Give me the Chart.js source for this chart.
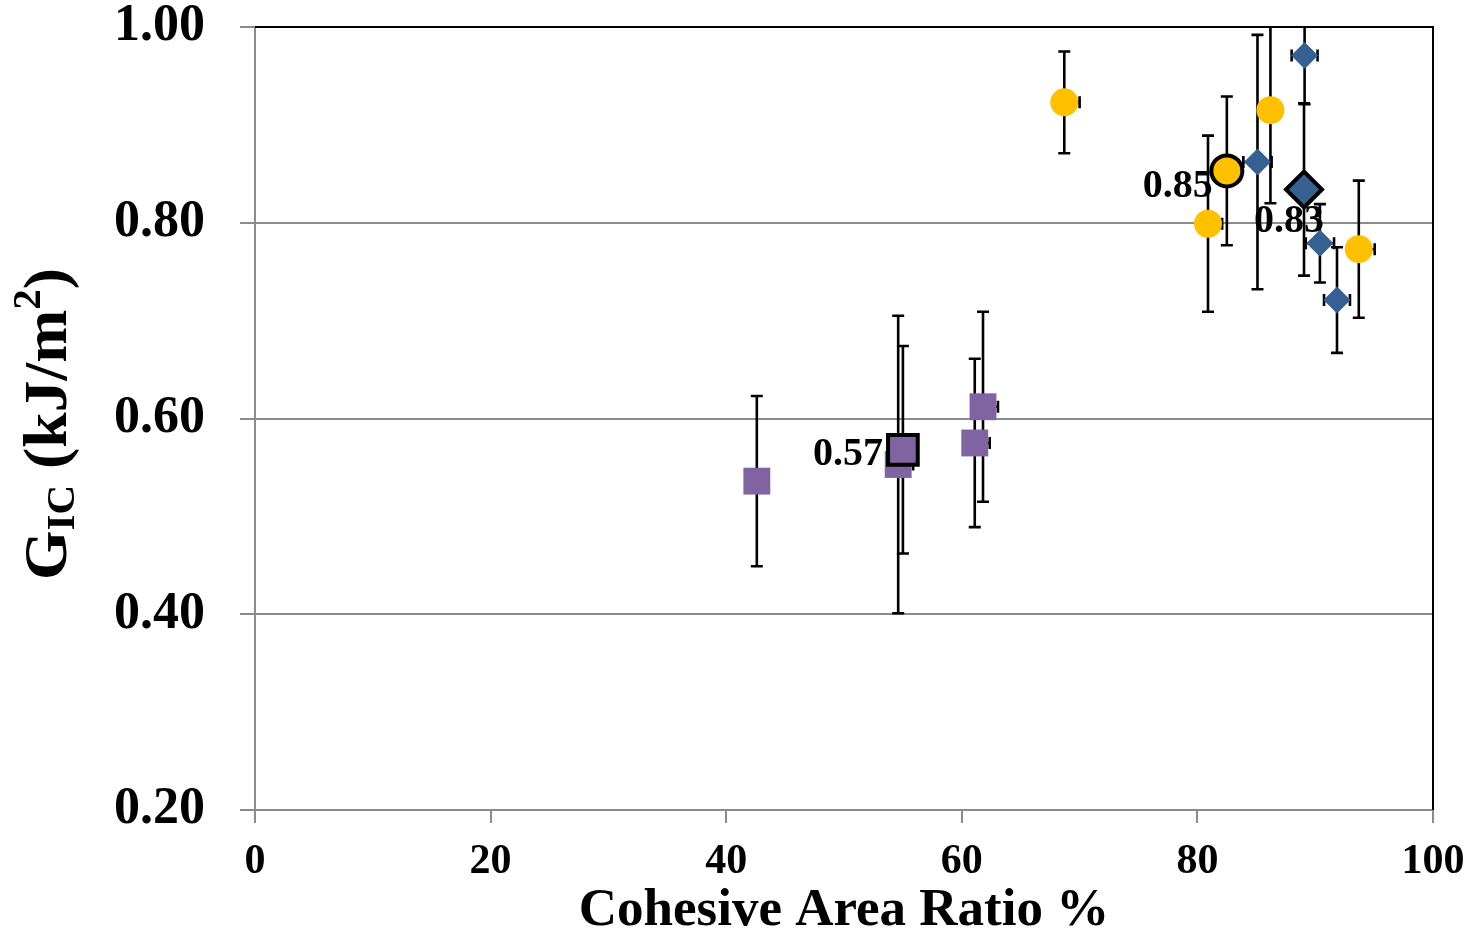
<!DOCTYPE html>
<html>
<head>
<meta charset="utf-8">
<script src="https://cdn.jsdelivr.net/npm/chart.js@4.4.1/dist/chart.umd.min.js"></script>
<style>
  html, body { margin: 0; padding: 0; background: #ffffff; }
  #wrap { width: 1471px; height: 935px; }
</style>
</head>
<body>
<div id="wrap"><canvas id="c" width="1471" height="935"></canvas></div>
<script>
// ---- Data ----
const xTickValues = [0, 20, 40, 60, 80, 100];
const yTickValues = [0.20, 0.40, 0.60, 0.80, 1.00];
const xTitle = 'Cohesive Area Ratio %';

// Purple squares
const sqX    = [42.6, 54.6, 61.1, 61.8];
const sqY    = [0.536, 0.553, 0.575, 0.612];
const sqXErr = [0.8, 1.27, 1.27, 1.27];
const sqYErr = [0.087, 0.152, 0.086, 0.097];
// Purple average
const sqAvgX = [55.0];
const sqAvgY = [0.568];
const sqAvgXErr = [1.0];
const sqAvgYErr = [0.106];
const sqAvgLabel = ['0.57'];

// Yellow circles
const ciX    = [68.7, 80.9, 86.2, 93.7];
const ciY    = [0.923, 0.799, 0.915, 0.773];
const ciXErr = [1.3, 1.2, 0.8, 1.35];
const ciYErr = [0.052, 0.090, 0.095, 0.070];
// Yellow average
const ciAvgX = [82.5];
const ciAvgY = [0.853];
const ciAvgXErr = [0.8];
const ciAvgYErr = [0.076];
const ciAvgLabel = ['0.85'];

// Blue diamonds
const diX    = [89.1, 85.1, 90.4, 91.85];
const diY    = [0.971, 0.862, 0.779, 0.721];
const diXErr = [1.1, 1.2, 1.2, 1.1];
const diYErr = [0.050, 0.130, 0.040, 0.054];
// Blue average
const diAvgX = [89.05];
const diAvgY = [0.834];
const diAvgXErr = [1.0];
const diAvgYErr = [0.088];
const diAvgLabel = ['0.83'];

const YELLOW = '#FFC000';
const BLUE = '#376092';
const PURPLE = '#8064A2';
const GRID = '#8c8c8c';
const SERIF = '"Liberation Serif", "Times New Roman", serif';

function pts(xs, ys) { return xs.map((x, i) => ({ x: x, y: ys[i] })); }

// ---- Plugins ----
const errorBars = {
  id: 'errorBars',
  beforeDatasetsDraw(chart) {
    const { ctx, chartArea: a, scales: { x, y } } = chart;
    ctx.save();
    ctx.beginPath();
    ctx.rect(a.left, a.top - 1, a.right - a.left, a.bottom - a.top + 2);
    ctx.clip();
    ctx.strokeStyle = '#000000';
    ctx.lineWidth = 2.6;
    const cap = 6;
    chart.data.datasets.forEach((ds) => {
      if (!ds.errY) return;
      ds.data.forEach((p, i) => {
        const px = x.getPixelForValue(p.x);
        const py = y.getPixelForValue(p.y);
        const yTop = y.getPixelForValue(p.y + ds.errY[i]);
        const yBot = y.getPixelForValue(p.y - ds.errY[i]);
        const xL = ds.xErrPlusOnly ? px : x.getPixelForValue(p.x - ds.errX[i]);
        const xR = x.getPixelForValue(p.x + ds.errX[i]);
        ctx.beginPath();
        ctx.moveTo(px, yTop); ctx.lineTo(px, yBot);
        ctx.moveTo(px - cap, yTop); ctx.lineTo(px + cap, yTop);
        ctx.moveTo(px - cap, yBot); ctx.lineTo(px + cap, yBot);
        ctx.moveTo(xL, py); ctx.lineTo(xR, py);
        if (!ds.xErrPlusOnly) { ctx.moveTo(xL, py - cap); ctx.lineTo(xL, py + cap); }
        ctx.moveTo(xR, py - cap); ctx.lineTo(xR, py + cap);
        ctx.stroke();
      });
    });
    ctx.restore();
    // top & right frame in black
    ctx.save();
    ctx.strokeStyle = '#000000';
    ctx.lineWidth = 2;
    ctx.beginPath();
    ctx.moveTo(a.left, a.top); ctx.lineTo(a.right, a.top); ctx.lineTo(a.right, a.bottom);
    ctx.stroke();
    ctx.restore();
  }
};

const avgLabels = {
  id: 'avgLabels',
  afterDatasetsDraw(chart, args, opts) {
    const { ctx, scales: { x, y } } = chart;
    ctx.save();
    ctx.fillStyle = '#000000';
    ctx.font = 'bold 40px ' + SERIF;
    ctx.textBaseline = 'alphabetic';
    chart.data.datasets.forEach((ds) => {
      if (!ds.valueLabels) return;
      const off = ds.labelOffset;
      ds.data.forEach((p, i) => {
        ctx.textAlign = off.align;
        ctx.fillText(ds.valueLabels[i], x.getPixelForValue(p.x) + off.dx, y.getPixelForValue(p.y) + off.dy);
      });
    });
    ctx.restore();
  }
};

const yTitlePlugin = {
  id: 'yTitlePlugin',
  afterDraw(chart, args, opts) {
    const { ctx } = chart;
    const big = 'bold 62px ' + SERIF;
    const small = 'bold 40px ' + SERIF;
    const parts = [
      { t: 'G', f: big, dy: 0 },
      { t: 'IC', f: small, dy: 8 },
      { t: ' (kJ/m', f: big, dy: 0 },
      { t: '2', f: small, dy: -26 },
      { t: ')', f: big, dy: 0 }
    ];
    ctx.save();
    let total = 0;
    parts.forEach(p => { ctx.font = p.f; p.w = ctx.measureText(p.t).width; total += p.w; });
    const targetLen = opts.length;
    ctx.translate(opts.cx, opts.cy);
    ctx.rotate(-Math.PI / 2);
    ctx.scale(targetLen / total, 1);
    ctx.fillStyle = '#000000';
    ctx.textBaseline = 'alphabetic';
    ctx.textAlign = 'left';
    let cx = -total / 2;
    parts.forEach(p => {
      ctx.font = p.f;
      ctx.fillText(p.t, cx, opts.baseline + p.dy);
      cx += p.w;
    });
    ctx.restore();
  }
};

// ---- Chart ----
const ctx = document.getElementById('c').getContext('2d');
new Chart(ctx, {
  type: 'scatter',
  data: {
    datasets: [
      {
        label: 'Average (circle)', data: pts(ciAvgX, ciAvgY), errX: ciAvgXErr, errY: ciAvgYErr, xErrPlusOnly: true,
        valueLabels: ciAvgLabel, labelOffset: { align: 'right', dx: -14, dy: 26 },
        pointStyle: 'circle', pointRadius: 15.5, pointHoverRadius: 15.5,
        backgroundColor: YELLOW, borderColor: '#000000', borderWidth: 4, pointBorderWidth: 4
      },
      {
        label: 'Average (diamond)', data: pts(diAvgX, diAvgY), errX: diAvgXErr, errY: diAvgYErr,
        valueLabels: diAvgLabel, labelOffset: { align: 'center', dx: -15, dy: 43 },
        pointStyle: 'rectRot', pointRadius: 18, pointHoverRadius: 18,
        backgroundColor: BLUE, borderColor: '#000000', borderWidth: 4, pointBorderWidth: 4
      },
      {
        label: 'Average (square)', data: pts(sqAvgX, sqAvgY), errX: sqAvgXErr, errY: sqAvgYErr, xErrPlusOnly: true,
        valueLabels: sqAvgLabel, labelOffset: { align: 'right', dx: -20, dy: 15 },
        pointStyle: 'rect', pointRadius: 21, pointHoverRadius: 21,
        backgroundColor: PURPLE, borderColor: '#000000', borderWidth: 4, pointBorderWidth: 4
      },
      {
        label: 'Diamonds', data: pts(diX, diY), errX: diXErr, errY: diYErr,
        pointStyle: 'rectRot', pointRadius: 13.5, pointHoverRadius: 13.5,
        backgroundColor: BLUE, borderColor: BLUE, borderWidth: 0, pointBorderWidth: 0
      },
      {
        label: 'Circles', data: pts(ciX, ciY), errX: ciXErr, errY: ciYErr, xErrPlusOnly: true,
        pointStyle: 'circle', pointRadius: 14, pointHoverRadius: 14,
        backgroundColor: YELLOW, borderColor: YELLOW, borderWidth: 0, pointBorderWidth: 0
      },
      {
        label: 'Squares', data: pts(sqX, sqY), errX: sqXErr, errY: sqYErr, xErrPlusOnly: true,
        pointStyle: 'rect', pointRadius: 19, pointHoverRadius: 19,
        backgroundColor: PURPLE, borderColor: PURPLE, borderWidth: 0, pointBorderWidth: 0
      }
    ]
  },
  options: {
    responsive: false,
    animation: false,
    devicePixelRatio: 1,
    layout: { autoPadding: false, padding: { top: 27, right: 38, left: 0, bottom: 0 } },
    plugins: {
      legend: { display: false },
      tooltip: { enabled: false },
      yTitlePlugin: { cx: 44, cy: 424, baseline: 22, length: 312 }
    },
    scales: {
      x: {
        type: 'linear', min: 0, max: 100,
        afterBuildTicks: (s) => { s.ticks = xTickValues.map(v => ({ value: v })); },
        afterFit: (s) => { s.height = 125; s.paddingLeft = 0; s.paddingRight = 0; },
        grid: { drawOnChartArea: false, color: GRID, lineWidth: 2, tickLength: 13, tickWidth: 2 },
        border: { color: GRID, width: 2 },
        ticks: {
          color: '#000000', padding: 18,
          font: { family: SERIF, weight: 'bold', size: 42, lineHeight: 1 },
          maxRotation: 0, autoSkip: false
        },
        title: {
          display: true, text: xTitle, color: '#000000',
          font: { family: SERIF, weight: 'bold', size: 53, lineHeight: 0.9 },
          padding: { top: 0, bottom: 0 }
        }
      },
      y: {
        type: 'linear', min: 0.2, max: 1.0,
        afterBuildTicks: (s) => { s.ticks = yTickValues.map(v => ({ value: v })); },
        afterFit: (s) => { s.width = 255; s.paddingTop = 0; s.paddingBottom = 0; },
        grid: { color: GRID, lineWidth: 2, tickLength: 15, tickWidth: 2 },
        border: { color: GRID, width: 2 },
        ticks: {
          color: '#000000', padding: 35,
          font: { family: SERIF, weight: 'bold', size: 52, lineHeight: 1 },
          callback: (v) => Number(v).toFixed(2), autoSkip: false
        }
      }
    }
  },
  plugins: [errorBars, avgLabels, yTitlePlugin]
});
</script>
</body>
</html>
